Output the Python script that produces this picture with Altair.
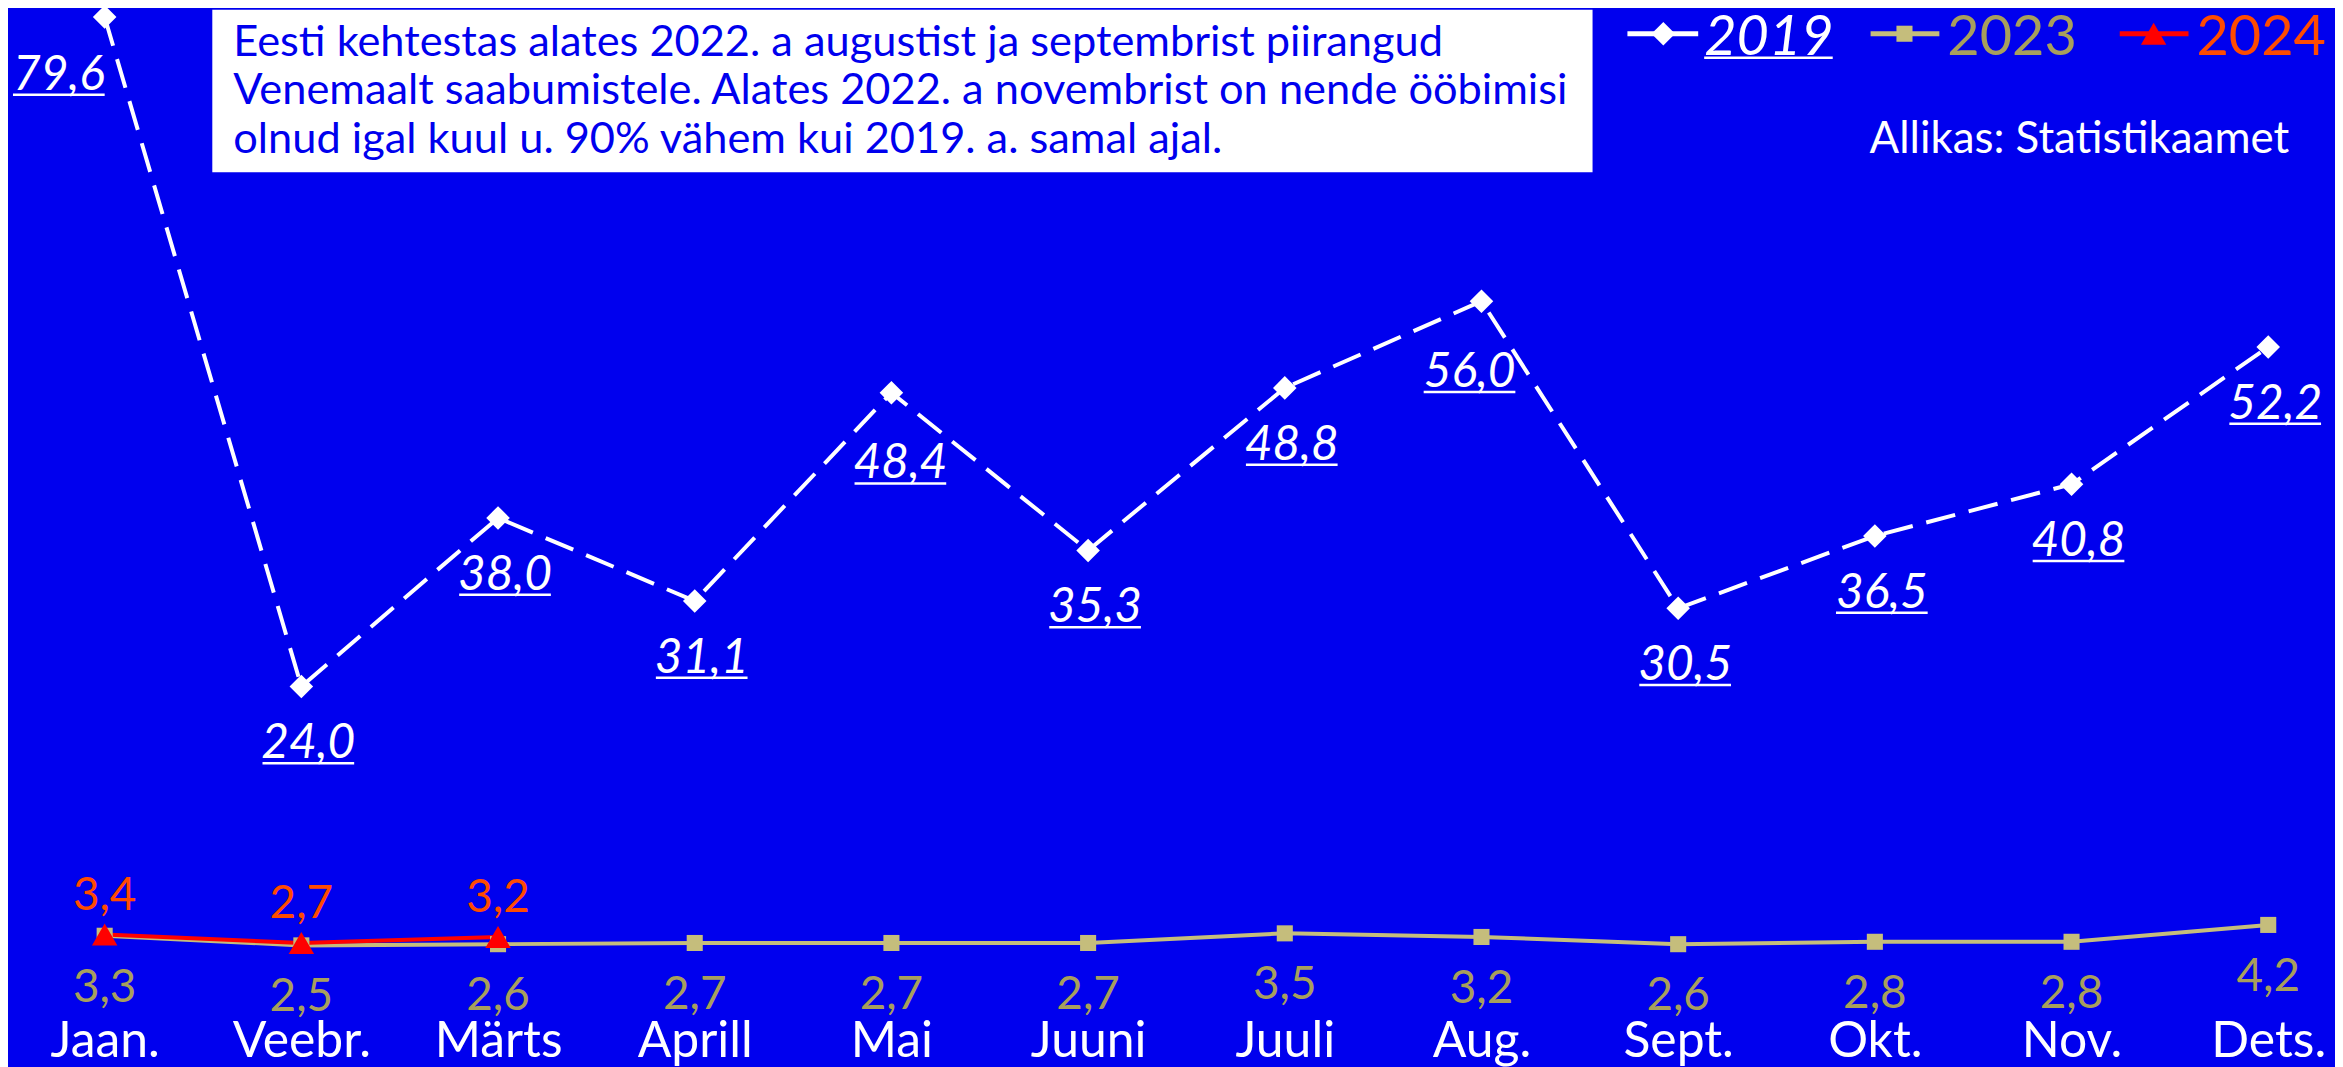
import altair as alt
import pandas as pd

months = ["Jaan.", "Veebr.", "Märts", "Aprill", "Mai", "Juuni",
          "Juuli", "Aug.", "Sept.", "Okt.", "Nov.", "Dets."]
v2019 = [79.6, 24.0, 38.0, 31.1, 48.4, 35.3, 48.8, 56.0, 30.5, 36.5, 40.8, 52.2]
v2023 = [3.3, 2.5, 2.6, 2.7, 2.7, 2.7, 3.5, 3.2, 2.6, 2.8, 2.8, 4.2]
v2024 = [3.4, 2.7, 3.2]
series_names = ["2019", "2023", "2024"]
note_lines = [
    "Eesti kehtestas alates 2022. a augustist ja septembrist piirangud",
    "Venemaalt saabumistele. Alates 2022. a novembrist on nende ööbimisi",
    "olnud igal kuul u. 90% vähem kui 2019. a. samal ajal.",
]
source_text = "Allikas: Statistikaamet"


def frame(vals):
    return pd.DataFrame({
        "month": months[:len(vals)],
        "value": vals,
        "label": [f"{v:.1f}".replace(".", ",") for v in vals],
    })


d19, d23, d24 = frame(v2019), frame(v2023), frame(v2024)

FONT = "Lato"
BG = "#0000EE"
WHITE = "#FFFFFF"
KHAKI_LINE = "#C5BD7C"
KHAKI_TEXT = "#A89F5C"
RED = "#FF0000"
ORANGE = "#FF4B00"

X = alt.X("month:N", sort=months,
          scale=alt.Scale(type="point", range=[97, 2268], padding=0),
          axis=alt.Axis(title=None, domain=False, ticks=False, tickSize=0, grid=False,
                        labelColor=WHITE, labelFont=FONT, labelFontSize=50,
                        labelPadding=81, labelBaseline="alphabetic", labelAngle=0))
Y = alt.Y("value:Q", scale=alt.Scale(domain=[0, 80.2], nice=False, zero=True), axis=None)
enc = dict(x=X, y=Y)

one = alt.Data(values=[{}])

# --- annotation box
box = alt.Chart(one).mark_rect(color=WHITE).encode(
    x=alt.value(205), x2=alt.value(1590), y=alt.value(0), y2=alt.value(163))
note = alt.Chart(one).mark_text(
    text=note_lines, font=FONT, fontSize=43.5, color=BG, align="left",
    baseline="alphabetic", lineHeight=49).encode(x=alt.value(226), y=alt.value(46))
source = alt.Chart(one).mark_text(
    text=source_text, font=FONT, fontSize=44, color=WHITE, align="right",
    baseline="alphabetic").encode(x=alt.value(2289), y=alt.value(144))

# --- series lines and markers
line19 = alt.Chart(d19).mark_line(color=WHITE, strokeWidth=4, strokeDash=[30, 14]).encode(**enc)
pts19 = alt.Chart(d19).mark_point(shape="diamond", filled=True, color=WHITE, size=560, opacity=1).encode(**enc)
line23 = alt.Chart(d23).mark_line(color=KHAKI_LINE, strokeWidth=4).encode(**enc)
pts23 = alt.Chart(d23).mark_point(shape="square", filled=True, color=KHAKI_LINE, size=260, opacity=1).encode(**enc)
line24 = alt.Chart(d24).mark_line(color=RED, strokeWidth=4).encode(**enc)
pts24 = alt.Chart(d24).mark_point(shape="triangle-up", filled=True, color=RED, size=650, opacity=1).encode(**enc)


# --- data labels for 2019 (italic, underlined); a few sit further from the line
def lab19(filt, dx, dy):
    base = alt.Chart(d19).transform_filter(filt)
    txt = base.mark_text(
        font=FONT, fontSize=48, fontStyle="italic", color=WHITE, align="center",
        baseline="alphabetic", dx=dx, dy=dy).encode(text="label:N", **enc)
    ul = base.mark_rule(
        color=WHITE, strokeWidth=2.5, xOffset=dx - 46, x2Offset=dx + 46,
        yOffset=dy + 5, y2Offset=dy + 5).encode(x=X, x2=alt.X2("month:N"), y=Y)
    return [txt, ul]


lab19_layers = (
    lab19("datum.month == 'Jaan.'", -46, 73)
    + lab19("datum.month == 'Mai'", 9, 86)
    + lab19("datum.month == 'Aug.'", -12, 86)
    + lab19("indexof(['Jaan.', 'Mai', 'Aug.'], datum.month) < 0", 7, 72)
)

lab23 = alt.Chart(d23).mark_text(
    font=FONT, fontSize=46, color=KHAKI_TEXT, align="center",
    baseline="alphabetic", dy=66).encode(text="label:N", **enc)
lab24 = alt.Chart(d24).mark_text(
    font=FONT, fontSize=46, color=ORANGE, align="center",
    baseline="alphabetic", dy=-25).encode(text="label:N", **enc)

# --- legend (drawn by hand to match the original style)
LY = 24
leg = []
for (x0, x1, xm, xt, shape, size, col, tcol, italic, name) in [
    (1625, 1696, 1661, 1702, "diamond", 560, WHITE, WHITE, True, series_names[0]),
    (1869, 1938, 1903, 1946, "square", 260, KHAKI_LINE, KHAKI_TEXT, False, series_names[1]),
    (2119, 2188, 2153, 2196, "triangle-up", 650, RED, ORANGE, False, series_names[2]),
]:
    leg.append(alt.Chart(one).mark_rule(color=col, strokeWidth=5).encode(
        x=alt.value(x0), x2=alt.value(x1), y=alt.value(LY)))
    leg.append(alt.Chart(one).mark_point(shape=shape, filled=True, color=col, size=size, opacity=1).encode(
        x=alt.value(xm), y=alt.value(LY)))
    leg.append(alt.Chart(one).mark_text(
        text=name, font=FONT, fontSize=56, color=tcol, align="left", baseline="alphabetic",
        fontStyle="italic" if italic else "normal").encode(x=alt.value(xt), y=alt.value(LY + 21)))
leg.append(alt.Chart(one).mark_rule(color=WHITE, strokeWidth=2.5).encode(
    x=alt.value(1702), x2=alt.value(1831), y=alt.value(LY + 24)))

chart = alt.layer(
    box, note, source,
    line19, line23, line24,
    pts19, pts23, pts24,
    *lab19_layers, lab23, lab24,
    *leg,
).properties(
    width=2335, height=969,
    autosize=alt.AutoSizeParams(type="none"),
    padding={"left": 0, "top": 0, "right": 0, "bottom": 90},
    background=BG,
).configure_view(stroke=None)

chart.save("out.html", embed_options={"renderer": "svg", "actions": False})
